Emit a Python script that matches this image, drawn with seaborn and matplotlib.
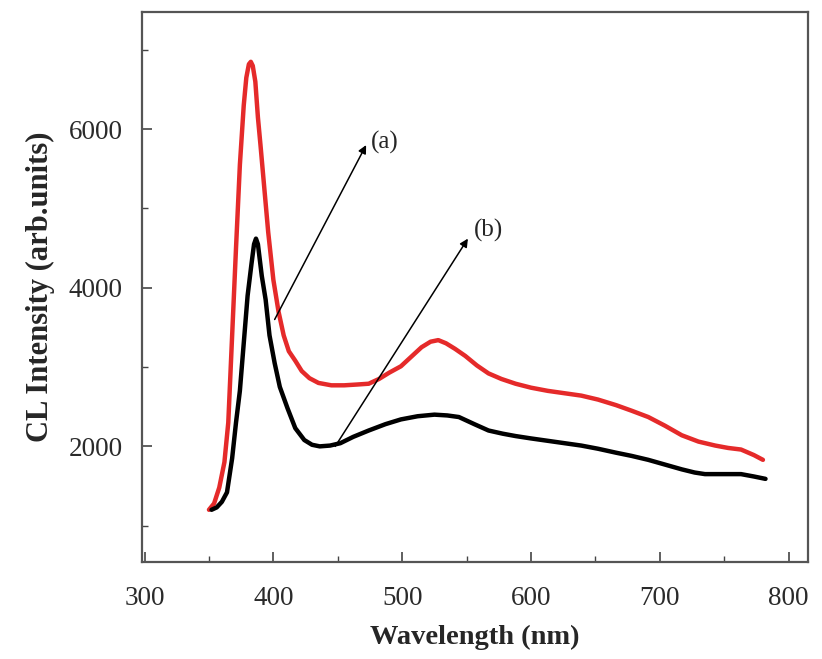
import matplotlib
matplotlib.use("Agg")
import matplotlib.pyplot as plt
from matplotlib.ticker import MultipleLocator, FixedLocator
import seaborn as sns
import pandas as pd

# ---- data ----
wl_a = [350, 354, 358, 362, 365, 368, 371, 374, 377, 379, 381, 382.5, 384, 386, 388, 390, 393,
        396, 400, 404, 408, 412, 417, 422, 428, 435, 445, 455, 465, 474, 482, 490,
        499, 507, 515, 522, 528, 534, 541, 549, 558, 567, 577, 588, 600, 613, 626,
        639, 652, 666, 678, 691, 704, 717, 730, 743, 753, 763, 773, 780]
int_a = [1200, 1280, 1480, 1800, 2300, 3400, 4500, 5550, 6300, 6650, 6820, 6850, 6800, 6600, 6150, 5800, 5250,
         4700, 4100, 3700, 3400, 3200, 3080, 2950, 2860, 2800, 2770, 2770, 2780, 2790, 2850, 2930,
         3010, 3130, 3250, 3320, 3340, 3300, 3230, 3140, 3020, 2920, 2850, 2790, 2740, 2700, 2670,
         2640, 2590, 2520, 2450, 2370, 2260, 2140, 2060, 2010, 1980, 1960, 1890, 1830]

wl_b = [352, 356, 360, 364, 368, 371, 374, 377, 380, 383, 385, 386.5, 388, 391, 394, 397,
        401, 405, 411, 417, 424, 430, 436, 444, 452, 462, 474, 487, 499, 512, 525,
        535, 544, 556, 567, 578, 588, 600, 613, 626, 639, 652, 666, 678, 691, 704,
        717, 727, 735, 750, 763, 773, 782]
int_b = [1200, 1230, 1300, 1420, 1850, 2300, 2700, 3300, 3900, 4300, 4550, 4620, 4550, 4150, 3850, 3400,
         3050, 2750, 2480, 2230, 2080, 2020, 2000, 2010, 2040, 2120, 2200, 2280, 2340, 2380, 2400,
         2390, 2370, 2280, 2200, 2160, 2130, 2100, 2070, 2040, 2010, 1970, 1920, 1880, 1830, 1770,
         1710, 1670, 1650, 1650, 1650, 1620, 1590]

x_ticks = [300, 400, 500, 600, 700, 800]
y_ticks = [2000, 4000, 6000]
labels = ["(a)", "(b)"]

df_a = pd.DataFrame({"wl": wl_a, "I": int_a})
df_b = pd.DataFrame({"wl": wl_b, "I": int_b})

sns.set_style("ticks")
plt.rcParams["font.family"] = ["Liberation Serif", "DejaVu Serif"]

fig = plt.figure(figsize=(8.22, 6.59), dpi=100)
ax = fig.add_axes([0.1727, 0.147, 0.983 - 0.1727, 0.982 - 0.147])

sns.lineplot(data=df_a, x="wl", y="I", ax=ax, color="#e52a2a", linewidth=3.2)
sns.lineplot(data=df_b, x="wl", y="I", ax=ax, color="#000000", linewidth=3.2)

ax.set_xlim(298, 815)
ax.set_ylim(540, 7480)
ax.xaxis.set_major_locator(FixedLocator(x_ticks))
ax.xaxis.set_minor_locator(MultipleLocator(50))
ax.yaxis.set_major_locator(FixedLocator(y_ticks))
ax.yaxis.set_minor_locator(FixedLocator([1000, 3000, 5000, 7000]))
ax.tick_params(which="both", direction="in", color="#444444", top=False, right=False)
ax.tick_params(which="major", length=7, width=1.2, labelsize=19.5, labelcolor="#2a2a2a")
ax.tick_params(axis="y", which="major", pad=14)
ax.tick_params(axis="x", which="major", pad=17)
ax.tick_params(which="minor", length=4, width=1.0)
for s in ax.spines.values():
    s.set_color("#555555")
    s.set_linewidth(1.6)

ax.set_xlabel("Wavelength (nm)", fontsize=20.5, fontweight="bold", labelpad=10)
ax.set_ylabel("CL Intensity (arb.units)", fontsize=22, fontweight="bold", labelpad=10)

arrow = dict(arrowstyle="-|>", color="black", lw=1.1, mutation_scale=12, shrinkA=0, shrinkB=0)
ax.annotate("", xy=(472, 5800), xytext=(401, 3600), arrowprops=arrow)
ax.text(476, 5830, labels[0], fontsize=18, va="center", ha="left")
ax.annotate("", xy=(551, 4620), xytext=(448, 2000), arrowprops=arrow)
ax.text(556, 4720, labels[1], fontsize=18, va="center", ha="left")

fig.savefig("out.png", dpi=100)
